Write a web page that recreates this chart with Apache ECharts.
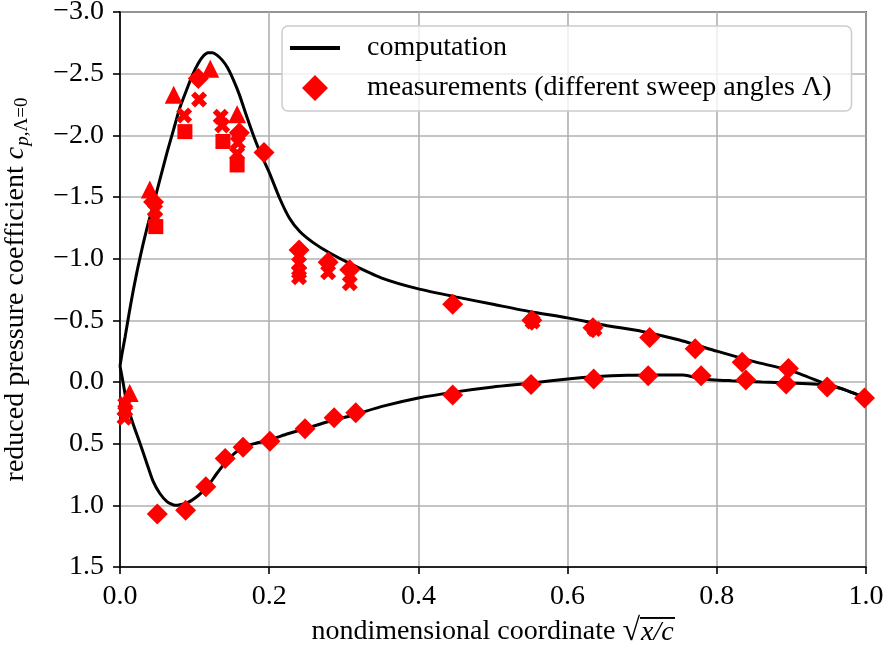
<!DOCTYPE html>
<html>
<head>
<meta charset="utf-8">
<script src="https://cdn.jsdelivr.net/npm/echarts/dist/echarts.min.js"></script>
<style>
  html, body { margin: 0; padding: 0; background: #fff; }
  #main { width: 884px; height: 652px; }
</style>
</head>
<body>
<div id="main"></div>
<script>
// computation, suction side (upper) and pressure side (lower)
var upperX = [0.000, 0.003, 0.007, 0.012, 0.018, 0.024, 0.031, 0.038, 0.044, 0.053, 0.063, 0.072, 0.080, 0.090, 0.098, 0.105, 0.112, 0.118, 0.124, 0.130, 0.137, 0.144, 0.152, 0.160, 0.170, 0.180, 0.188, 0.200, 0.214, 0.227, 0.241, 0.259, 0.280, 0.310, 0.350, 0.400, 0.450, 0.500, 0.550, 0.600, 0.650, 0.700, 0.750, 0.800, 0.850, 0.900, 0.950, 0.970, 1.000];
var upperCp = [-0.13, -0.24, -0.37, -0.55, -0.75, -0.93, -1.12, -1.29, -1.42, -1.63, -1.86, -2.05, -2.22, -2.38, -2.50, -2.585, -2.645, -2.67, -2.67, -2.65, -2.61, -2.55, -2.45, -2.33, -2.15, -1.98, -1.86, -1.70, -1.49, -1.33, -1.22, -1.13, -1.05, -0.955, -0.845, -0.755, -0.69, -0.63, -0.57, -0.52, -0.46, -0.41, -0.34, -0.25, -0.165, -0.09, 0.025, 0.06, 0.13];
var lowerX = [0.000, 0.004, 0.009, 0.017, 0.027, 0.036, 0.044, 0.053, 0.063, 0.074, 0.090, 0.105, 0.117, 0.130, 0.143, 0.155, 0.165, 0.180, 0.200, 0.225, 0.250, 0.280, 0.312, 0.350, 0.400, 0.450, 0.500, 0.550, 0.600, 0.640, 0.680, 0.720, 0.755, 0.780, 0.820, 0.860, 0.900, 0.950, 0.970, 1.000];
var lowerCp = [-0.13, 0.00, 0.17, 0.33, 0.50, 0.66, 0.80, 0.90, 0.97, 1.00, 0.98, 0.92, 0.85, 0.74, 0.64, 0.57, 0.53, 0.50, 0.47, 0.42, 0.375, 0.32, 0.27, 0.20, 0.13, 0.08, 0.04, 0.01, -0.025, -0.045, -0.055, -0.057, -0.057, -0.025, -0.01, 0.00, 0.008, 0.025, 0.06, 0.13];

// measurements, one array pair per marker shape
var diamondX = [0.045, 0.105, 0.160, 0.193, 0.240, 0.279, 0.308, 0.446, 0.552, 0.634, 0.710, 0.771, 0.834, 0.896, 0.948, 0.998, 0.050, 0.088, 0.115, 0.141, 0.165, 0.201, 0.248, 0.287, 0.316, 0.446, 0.551, 0.635, 0.708, 0.779, 0.839, 0.893];
var diamondCp = [-1.46, -2.46, -2.02, -1.86, -1.07, -0.97, -0.91, -0.63, -0.50, -0.44, -0.36, -0.27, -0.16, -0.11, 0.04, 0.13, 1.07, 1.04, 0.85, 0.62, 0.53, 0.48, 0.38, 0.29, 0.25, 0.105, 0.02, -0.024, -0.05, -0.05, -0.016, 0.016];
var triangleX = [0.013, 0.040, 0.072, 0.121, 0.157];
var triangleCp = [0.09, -1.56, -2.33, -2.54, -2.17];
var squareX = [0.048, 0.087, 0.138, 0.157];
var squareCp = [-1.26, -2.03, -1.95, -1.76];
var crossX = [0.007, 0.007, 0.006, 0.047, 0.047, 0.086, 0.106, 0.135, 0.137, 0.158, 0.157, 0.240, 0.240, 0.240, 0.279, 0.308, 0.553, 0.636];
var crossCp = [0.18, 0.23, 0.29, -1.39, -1.33, -2.16, -2.29, -2.15, -2.08, -1.94, -1.85, -0.96, -0.89, -0.85, -0.89, -0.80, -0.49, -0.43];

var compName = 'computation';
var measName = 'measurements (different sweep angles Λ)';
var crossPath = 'path://M0,2.5L2.5,0L5,2.5L7.5,0L10,2.5L7.5,5L10,7.5L7.5,10L5,7.5L2.5,10L0,7.5L2.5,5Z';
// legend icons: tiny corner dots keep the 50x26 box so shapes are not stretched
var lineIcon = 'path://M0,0L0.01,0L0,0.01Z M50,26L49.99,26L50,25.99Z M0,11L50,11L50,15L0,15Z';
var diamondIcon = 'path://M0,0L0.01,0L0,0.01Z M50,26L49.99,26L50,25.99Z M25,0L38,13L25,26L12,13Z';

function zip(a, b) {
    return a.map(function (v, i) { return [v, b[i]]; });
}

// little canvas used as the bar over x/c
var bar = document.createElement('canvas');
bar.width = 4; bar.height = 30;
var bctx = bar.getContext('2d');
bctx.fillStyle = '#000';
bctx.fillRect(0, 0, 4, 2);

var font = 'Liberation Serif';
var fs = 28;
var myChart = echarts.init(document.getElementById('main'));
var option = {
    animation: false,
    textStyle: { fontFamily: font },
    grid: {
        left: 120, right: 18, top: 12, bottom: 85,
        outerBoundsMode: 'none', containLabel: false,
        show: true, borderColor: '#000', borderWidth: 1.6
    },
    legend: {
        orient: 'vertical',
        left: 282, top: 26,
        padding: [8, 20, 9, 8],
        itemWidth: 50, itemHeight: 26,
        itemGap: 12,
        backgroundColor: 'rgba(255,255,255,0.8)',
        borderColor: '#cccccc', borderWidth: 1.5, borderRadius: 6,
        textStyle: { fontFamily: font, fontSize: fs, color: '#000', padding: [0, 0, 0, 22] },
        data: [
            { name: compName, icon: lineIcon },
            { name: measName, icon: diamondIcon }
        ]
    },
    xAxis: {
        type: 'value', min: 0, max: 1, interval: 0.2,
        axisLine: { show: true, onZero: false, lineStyle: { color: '#000', width: 1.6 } },
        axisTick: { show: true, length: 7, lineStyle: { color: '#000', width: 1.6 } },
        axisLabel: { color: '#000', fontFamily: font, fontSize: fs, margin: 16,
            formatter: function (v) { return v.toFixed(1); } },
        splitLine: { show: true, lineStyle: { color: '#b0b0b0', width: 1.6 } },
        name: 'nondimensional coordinate {r|√}{ov|x/c}',
        nameLocation: 'middle', nameGap: 47,
        nameTextStyle: {
            color: '#000', fontFamily: font, fontSize: fs,
            rich: {
                r: { fontFamily: font, fontSize: 32, color: '#000' },
                ov: { fontFamily: font, fontSize: fs, fontStyle: 'italic', color: '#000',
                    lineHeight: 30, padding: [2, 1, 0, 1], backgroundColor: { image: bar } }
            }
        }
    },
    yAxis: {
        type: 'value', min: -3, max: 1.5, interval: 0.5, inverse: true,
        axisLine: { show: true, onZero: false, lineStyle: { color: '#000', width: 1.6 } },
        axisTick: { show: true, length: 7, lineStyle: { color: '#000', width: 1.6 } },
        axisLabel: { color: '#000', fontFamily: font, fontSize: fs, margin: 16,
            formatter: function (v) { return (v < 0 ? '\u2212' : '') + Math.abs(v).toFixed(1); } },
        splitLine: { show: true, lineStyle: { color: '#b0b0b0', width: 1.6 } },
        name: 'reduced pressure coefficient {c|c}{p|p}{s|,Λ=0}',
        nameLocation: 'middle', nameGap: 88, nameRotate: 90,
        nameTextStyle: {
            color: '#000', fontFamily: font, fontSize: fs,
            rich: {
                c: { fontFamily: font, fontSize: fs, fontStyle: 'italic', color: '#000' },
                p: { fontFamily: font, fontSize: 19, fontStyle: 'italic', color: '#000', padding: [14, 0, 0, 1] },
                s: { fontFamily: font, fontSize: 19, color: '#000', padding: [14, 0, 0, 0] }
            }
        }
    },
    series: [
        { name: compName, type: 'line', data: zip(upperX, upperCp), showSymbol: false, symbol: 'none',
          smooth: 0.2, lineStyle: { color: '#000', width: 3 }, itemStyle: { color: '#000' }, z: 2 },
        { name: compName, type: 'line', data: zip(lowerX, lowerCp), showSymbol: false, symbol: 'none',
          smooth: 0.2, lineStyle: { color: '#000', width: 3 }, itemStyle: { color: '#000' }, z: 2 },
        { name: 'triangles', type: 'scatter', data: zip(triangleX, triangleCp), symbol: 'triangle',
          symbolSize: 18, itemStyle: { color: '#ff0000', opacity: 1 }, z: 3 },
        { name: 'squares', type: 'scatter', data: zip(squareX, squareCp), symbol: 'rect',
          symbolSize: 15, itemStyle: { color: '#ff0000', opacity: 1 }, z: 3 },
        { name: 'crosses', type: 'scatter', data: zip(crossX, crossCp), symbol: crossPath,
          symbolSize: 16, itemStyle: { color: '#ff0000', opacity: 1 }, z: 3 },
        { name: measName, type: 'scatter', data: zip(diamondX, diamondCp), symbol: 'diamond',
          symbolSize: 21, itemStyle: { color: '#ff0000', opacity: 1 }, z: 3 }
    ]
};
myChart.setOption(option);
</script>
</body>
</html>
